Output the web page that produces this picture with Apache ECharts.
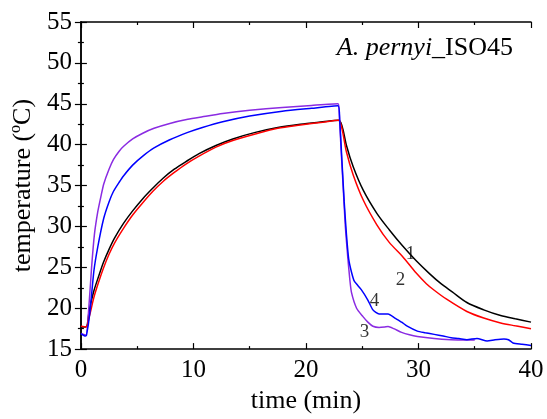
<!DOCTYPE html>
<html>
<head>
<meta charset="utf-8">
<script src="https://cdn.jsdelivr.net/npm/echarts@6/dist/echarts.min.js"></script>
<style>html,body{margin:0;padding:0;background:#fff;overflow:hidden}#c{width:547px;height:419px}</style>
</head>
<body>
<div id="c"></div>
<script>
// ---- data (time in min, temperature in °C) ----
var t1 = [0, 0.45, 0.75, 1.15, 1.6, 2.0, 2.5, 3.0, 3.8, 4.6, 5.5, 6.4, 7.3, 8.3, 9.3, 10.5, 12.0, 13.5, 15.5, 17.5, 19.5, 21.5, 22.9,
          23.1, 23.3, 23.6, 24.2, 25.1, 26.3, 27.4, 28.6, 29.8, 31.0, 32.0, 33.0, 34.3, 35.8, 37.3, 38.6, 40.0];
var v1 = [17.7, 17.7, 19.8, 22.1, 24.0, 25.6, 27.2, 28.6, 30.4, 31.9, 33.4, 34.7, 35.9, 37.0, 37.9, 38.9, 39.9, 40.7, 41.5, 42.1, 42.5, 42.8, 43.0,
          42.7, 41.8, 39.9, 37.3, 34.4, 31.6, 29.6, 27.6, 25.8, 24.2, 23.0, 22.0, 20.7, 19.8, 19.1, 18.7, 18.3];

var t2 = [0, 0.45, 0.75, 1.15, 1.6, 2.0, 2.5, 3.0, 3.8, 4.6, 5.5, 6.4, 7.3, 8.3, 9.3, 10.5, 12.0, 13.5, 15.5, 17.5, 19.5, 21.5, 22.9,
          23.1, 23.3, 23.6, 24.2, 25.1, 26.3, 27.4, 28.6, 29.8, 30.7, 31.4, 32.5, 34.3, 35.8, 37.3, 38.6, 40.0];
var v2 = [17.8, 17.7, 19.0, 21.3, 23.3, 24.9, 26.6, 28.0, 29.8, 31.4, 32.9, 34.3, 35.5, 36.6, 37.6, 38.6, 39.7, 40.5, 41.3, 42.0, 42.4, 42.75, 43.0,
          42.5, 41.3, 39.1, 36.3, 33.2, 30.2, 28.05, 26.3, 24.3, 23.0, 22.2, 21.1, 19.6, 18.8, 18.2, 17.85, 17.5];

var t3 = [0, 0.45, 0.7, 0.95, 1.2, 1.5, 1.8, 2.03, 2.5, 2.9, 3.4, 3.8, 4.6, 5.5, 6.5, 7.9, 9.5, 10.8, 12.6, 15.0, 17.9, 20.5, 22.85,
          22.95, 23.1, 23.3, 23.5, 23.7, 23.9, 24.05, 24.5, 25.05, 25.5, 25.95, 26.5, 27.0, 27.3, 27.8, 28.5, 29.2, 29.9, 31.4, 32.9, 34.0, 35.0];
var v3 = [16.9, 16.7, 20.0, 25.0, 29.0, 31.8, 33.8, 35.2, 37.0, 38.2, 39.2, 39.8, 40.7, 41.4, 42.0, 42.6, 43.1, 43.4, 43.8, 44.2, 44.55, 44.8, 45.0,
          44.0, 40.0, 35.0, 30.0, 26.5, 23.5, 21.9, 20.0, 19.0, 18.3, 17.8, 17.65, 17.7, 17.75, 17.5, 17.05, 16.75, 16.55, 16.3, 16.15, 16.1, 16.1];

var t4 = [0, 0.4, 0.5, 0.8, 1.15, 1.5, 2.03, 2.5, 2.9, 3.4, 3.8, 4.6, 5.5, 6.5, 7.9, 9.5, 10.8, 12.6, 15.0, 17.9, 20.5, 22.85,
          23.0, 23.2, 23.4, 23.6, 23.8, 24.05, 24.3, 24.9, 25.5, 25.95, 26.5, 26.9, 27.3, 27.9, 28.5, 29.0, 29.9, 30.6, 31.4, 32.2, 32.9,
          33.6, 34.3, 35.2, 36.1, 36.8, 37.6, 38.0, 38.4, 39.2, 40.0];
var v4 = [16.9, 16.6, 16.7, 19.5, 24.5, 27.5, 31.0, 33.0, 34.3, 35.4, 36.2, 37.5, 38.6, 39.6, 40.6, 41.5, 42.1, 42.8, 43.5, 44.1, 44.45, 44.75,
          43.0, 38.0, 33.0, 29.0, 26.0, 24.4, 23.3, 22.3, 21.0, 19.8, 19.3, 19.3, 19.3, 18.8, 18.3, 17.8, 17.2, 17.0, 16.8, 16.6, 16.4,
          16.3, 16.15, 16.3, 16.0, 16.15, 16.25, 16.15, 15.75, 15.6, 15.45];

// curve number labels
var labelText = ['1', '2', '3', '4'];
var labelT = [29.3, 28.4, 25.2, 26.1];
var labelV = [26.6, 23.4, 17.1, 20.9];

var xTicks = [0, 10, 20, 30, 40];
var yTicks = [15, 20, 25, 30, 35, 40, 45, 50, 55];

function pairs(t, v) { return t.map(function (x, i) { return [x, v[i]]; }); }

var FONT = 'Liberation Serif';
var chart = echarts.init(document.getElementById('c'), null, { renderer: 'canvas', width: 547, height: 419 });

function axisCommon(extra) {
  var o = {
    type: 'value',
    axisLine: { show: true, lineStyle: { color: '#000', width: 1.5 } },
    axisTick: { show: true, inside: true, length: 6, lineStyle: { color: '#000', width: 1.2 } },
    minorTick: { show: true, splitNumber: 2, length: 3, lineStyle: { color: '#000', width: 1.2 } },
    splitLine: { show: false },
    minorSplitLine: { show: false },
    axisLabel: {
      show: true, color: '#000', fontFamily: FONT, fontSize: 25, margin: 9,
      formatter: function (v) { return '{t|' + v + '}'; },
      rich: { t: { fontFamily: FONT, fontSize: 25, color: '#000' } }
    }
  };
  for (var k in extra) o[k] = extra[k];
  return o;
}

var lineStyleW = 1.5;
var option = {
  animation: false,
  backgroundColor: '#fff',
  textStyle: { fontFamily: FONT, color: '#000' },
  graphic: [{
    type: 'text', right: 34, top: 35, z: 20,
    style: {
      text: '{i|A. pernyi}{n|_ISO45}',
      fontFamily: FONT, fontSize: 26, fill: '#000',
      rich: {
        i: { fontFamily: FONT, fontSize: 26, fontStyle: 'italic', fill: '#000' },
        n: { fontFamily: FONT, fontSize: 26, fill: '#000' }
      }
    }
  }],
  grid: { left: 77, right: 16, top: 22, bottom: 58, containLabel: false },
  xAxis: [
    axisCommon({
      position: 'bottom', min: xTicks[0], max: xTicks[xTicks.length - 1], interval: 10,
      name: 'time (min)', nameLocation: 'middle', nameGap: 33,
      nameTextStyle: { fontFamily: FONT, fontSize: 26, color: '#000' }
    }),
    axisCommon({
      position: 'top', min: xTicks[0], max: xTicks[xTicks.length - 1], interval: 10,
      axisLabel: { show: false }
    })
  ],
  yAxis: [
    axisCommon({
      position: 'left', min: yTicks[0], max: yTicks[yTicks.length - 1], interval: 5,
      name: '{a|temperature (}{s|o}{a|C)}', nameLocation: 'middle', nameGap: 40, nameRotate: 90,
      nameTextStyle: {
        fontFamily: FONT, fontSize: 26, color: '#000',
        rich: {
          a: { fontFamily: FONT, fontSize: 26, color: '#000', lineHeight: 30 },
          s: { fontFamily: FONT, fontSize: 16, color: '#000', verticalAlign: 'top', lineHeight: 30, padding: [0, 0, 11, 0] }
        }
      }
    }),
    axisCommon({
      position: 'right', min: yTicks[0], max: yTicks[yTicks.length - 1], interval: 5,
      axisLabel: { show: false }
    })
  ],
  series: [
    { name: '1', type: 'line', data: pairs(t1, v1), showSymbol: false, smooth: 0.3, lineStyle: { color: '#000000', width: lineStyleW }, z: 3 },
    { name: '2', type: 'line', data: pairs(t2, v2), showSymbol: false, smooth: 0.3, lineStyle: { color: '#ff0000', width: lineStyleW }, z: 4 },
    { name: '3', type: 'line', data: pairs(t3, v3), showSymbol: false, smooth: 0.2, lineStyle: { color: '#8a2be2', width: lineStyleW }, z: 3 },
    { name: '4', type: 'line', data: pairs(t4, v4), showSymbol: false, smooth: 0.2, lineStyle: { color: '#0000ff', width: lineStyleW }, z: 4 },
    {
      type: 'scatter', symbolSize: 0, silent: true,
      data: labelT.map(function (t, i) { return { value: [t, labelV[i]], name: labelText[i] }; }),
      label: { show: true, position: 'inside', formatter: function (p) { return p.name; }, fontFamily: FONT, fontSize: 19, color: '#000' },
      z: 10
    }
  ]
};
chart.setOption(option);
</script>
</body>
</html>
